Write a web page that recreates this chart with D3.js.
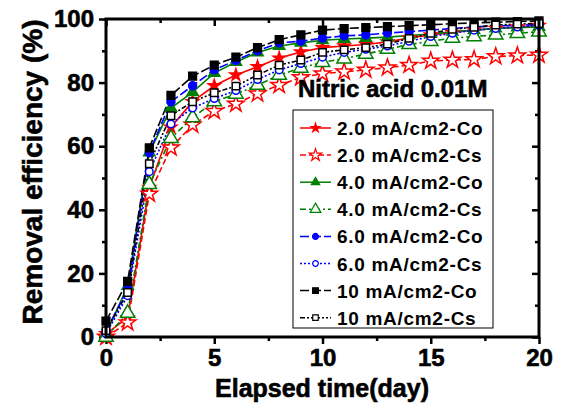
<!DOCTYPE html>
<html><head><meta charset="utf-8">
<script src="https://cdn.jsdelivr.net/npm/d3@7"></script>
<style>
html,body{margin:0;padding:0;background:#fff;}
text{font-family:"Liberation Sans",Arial,sans-serif;font-weight:bold;fill:#000;}
.heavy{stroke:#000;stroke-width:0.6px;}
</style></head>
<body>
<svg id="c" width="562" height="410"></svg>
<script>
const days = d3.range(0, 21);
const seriesNames = ["2.0 mA/cm2-Co","2.0 mA/cm2-Cs","4.0 mA/cm2-Co","4.0 mA/cm2-Cs","6.0 mA/cm2-Co","6.0 mA/cm2-Cs","10 mA/cm2-Co","10 mA/cm2-Cs"];
const co2 = [1, 6, 47, 66, 74, 79, 82.4, 85, 87.7, 89.6, 91, 91.5, 92, 92.8, 94, 95, 95.8, 96.5, 97, 97.5, 98];
const cs2 = [0, 4.5, 45, 59.5, 66.7, 71, 73.3, 76.5, 79.2, 81.6, 82.8, 83.4, 84, 84.7, 85.5, 86.8, 87.1, 87.3, 88.2, 88.5, 88.7];
const co4 = [1, 16, 58, 72, 77, 83, 86.5, 89.5, 91.5, 92.5, 93.3, 93.7, 94, 94.3, 94.8, 95.3, 96, 96.5, 97, 97.3, 97.5];
const cs4 = [0, 7.5, 48, 62.5, 69, 74, 76.4, 79.2, 82.4, 84.6, 86.4, 87.5, 89, 90.5, 92, 93, 94, 94.5, 95, 95.5, 96];
const co6 = [2, 15, 58, 74, 79, 84, 87, 90, 92.5, 93, 94, 94.7, 95, 95.6, 96, 96.5, 97, 97.5, 97.8, 98, 98.3];
const cs6 = [1, 13, 52, 67, 72, 75, 77.5, 81, 84, 86, 88, 89.5, 90.5, 91.5, 93, 94.5, 95.5, 96.5, 97, 97.5, 98];
const co10 = [5, 17.5, 59.5, 76, 82, 85.5, 88, 91, 93.5, 95, 96.5, 97, 97.3, 97.6, 97.9, 98.2, 98.5, 98.8, 99, 99.2, 99.4];
const cs10 = [2, 14, 54.5, 69.6, 74, 76.8, 78.9, 82.4, 85.5, 87.1, 89.5, 90.3, 91, 92.1, 93.9, 95.5, 96.8, 97.4, 98.1, 98.4, 98.6];
const xTicks = [0, 5, 10, 15, 20];
const xMinor = [2.5, 7.5, 12.5, 17.5];
const yTicks = [0, 20, 40, 60, 80, 100];
const yMinor = [10, 30, 50, 70, 90];
const xTitle = "Elapsed time(day)";
const yTitle = "Removal efficiency (%)";
const note = "Nitric acid 0.01M";

const values = [co2, cs2, co4, cs4, co6, cs6, co10, cs10];
const styles = [
  {color:"#ff0000", dash:null, sym:d3.symbolStar, size:45, fill:true},
  {color:"#ff0000", dash:"6,3", sym:d3.symbolStar, size:85, fill:false},
  {color:"#008000", dash:null, sym:d3.symbolTriangle, size:55, fill:true},
  {color:"#008000", dash:"6,3,2,3", sym:d3.symbolTriangle, size:90, fill:false},
  {color:"#0000ff", dash:"9,3", sym:d3.symbolCircle, size:50, fill:true},
  {color:"#0000ff", dash:"2,2", sym:d3.symbolCircle, size:45, fill:false},
  {color:"#000000", dash:"9,3", sym:d3.symbolSquare, size:60, fill:true},
  {color:"#000000", dash:"5,2,2,2,2,2", sym:d3.symbolSquare, size:55, fill:false}
];

const svg = d3.select("#c");
svg.append("rect").attr("width",562).attr("height",410).attr("fill","#fff");
const x = d3.scaleLinear().domain([0,20]).range([106,539]);
const y = d3.scaleLinear().domain([0,100]).range([337,19]);

function styleAxis(g){
  g.select(".domain").remove();
  g.selectAll("line").attr("stroke","#000").attr("stroke-width",2.5);
  g.selectAll("text").style("font-size","24px").style("font-weight","bold").attr("fill","#000").attr("class","heavy");
}
svg.append("g").attr("transform","translate(0,337)")
  .call(d3.axisBottom(x).tickValues(xTicks).tickSize(7).tickPadding(5).tickFormat(d3.format("d")))
  .call(styleAxis);
svg.append("g").attr("transform","translate(0,337)")
  .call(d3.axisBottom(x).tickValues(xMinor).tickSize(4).tickFormat(""))
  .call(styleAxis);
svg.append("g").attr("transform","translate(0,19)")
  .call(d3.axisTop(x).tickValues(xTicks).tickSize(-7).tickFormat(""))
  .call(styleAxis);
svg.append("g").attr("transform","translate(0,19)")
  .call(d3.axisTop(x).tickValues(xMinor).tickSize(-4).tickFormat(""))
  .call(styleAxis);
svg.append("g").attr("transform","translate(106,0)")
  .call(d3.axisLeft(y).tickValues(yTicks).tickSize(7).tickPadding(5).tickFormat(d3.format("d")))
  .call(styleAxis);
svg.append("g").attr("transform","translate(106,0)")
  .call(d3.axisLeft(y).tickValues(yMinor).tickSize(4).tickFormat(""))
  .call(styleAxis);
svg.append("g").attr("transform","translate(539,0)")
  .call(d3.axisRight(y).tickValues(yTicks).tickSize(-7).tickFormat(""))
  .call(styleAxis);
svg.append("g").attr("transform","translate(539,0)")
  .call(d3.axisRight(y).tickValues(yMinor).tickSize(-4).tickFormat(""))
  .call(styleAxis);

const line = d3.line().x((d,i)=>x(days[i])).y(d=>y(d));
values.forEach((vals,k)=>{
  const s = styles[k];
  svg.append("path").datum(vals).attr("d",line).attr("fill","none")
    .attr("stroke",s.color).attr("stroke-width",1.6)
    .attr("stroke-dasharray",s.dash);
});
values.forEach((vals,k)=>{
  const s = styles[k];
  svg.append("g").selectAll("path").data(vals).join("path")
    .attr("transform",(d,i)=>`translate(${x(days[i])},${y(d)})`)
    .attr("d",d3.symbol().type(s.sym).size(s.size))
    .attr("fill",s.fill ? s.color : "#fff")
    .attr("stroke",s.color).attr("stroke-width",1.5);
});

svg.append("rect").attr("x",106).attr("y",19).attr("width",433).attr("height",318)
  .attr("fill","none").attr("stroke","#000").attr("stroke-width",3);

svg.append("text").attr("x",298).attr("y",97).attr("class","heavy").style("font-size","24px").text(note);

const lg = svg.append("g");
lg.append("rect").attr("x",293).attr("y",110).attr("width",200).attr("height",218)
  .attr("fill","#fff").attr("stroke","#000").attr("stroke-width",1);
seriesNames.forEach((name,k)=>{
  const s = styles[k];
  const cy = 128 + k*27.1;
  lg.append("line").attr("x1",300).attr("x2",331).attr("y1",cy).attr("y2",cy)
    .attr("stroke",s.color).attr("stroke-width",1.5).attr("stroke-dasharray",s.dash);
  lg.append("path").attr("transform",`translate(315.5,${cy})`)
    .attr("d",d3.symbol().type(s.sym).size(s.size*0.55))
    .attr("fill",s.fill ? s.color : "#fff").attr("stroke",s.color).attr("stroke-width",1.2);
  lg.append("text").attr("x",337).attr("y",cy+7).style("font-size","19px")
    .style("letter-spacing","0.7px").text(name);
});

svg.append("text").attr("x",322).attr("y",397).attr("text-anchor","middle").attr("class","heavy")
  .style("font-size","25px").text(xTitle);
svg.append("text").attr("transform","translate(42,172) rotate(-90)").attr("text-anchor","middle").attr("class","heavy")
  .style("font-size","28px").text(yTitle);
</script>
</body></html>
